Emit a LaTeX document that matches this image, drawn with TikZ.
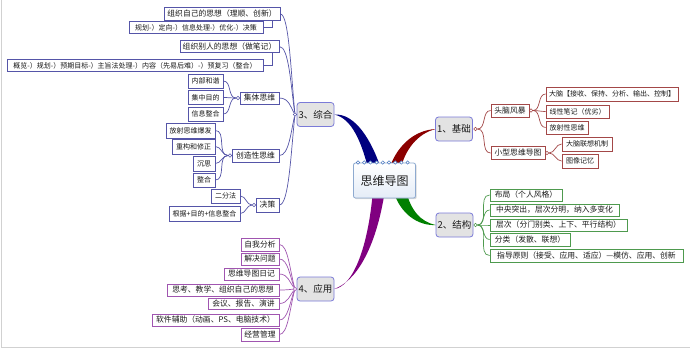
\documentclass[tikz,border=0pt]{standalone}
\usepackage{fontspec}
\setmainfont{Noto Sans CJK SC}
\usetikzlibrary{shadows}
\definecolor{colA}{HTML}{A34848}
\definecolor{colB}{HTML}{4E9A4E}
\definecolor{colC}{HTML}{5555A8}
\definecolor{colD}{HTML}{A055B0}
\definecolor{brA}{HTML}{8B0000}
\definecolor{brB}{HTML}{008000}
\definecolor{brC}{HTML}{00007F}
\definecolor{brD}{HTML}{800080}
\definecolor{mainb}{HTML}{7B7BD8}
\definecolor{maing}{HTML}{E3E3E3}
\definecolor{cenb}{HTML}{8EAAD0}
\definecolor{cenf}{HTML}{E4ECF7}
\definecolor{bindc}{HTML}{4A78C0}
\definecolor{txt}{HTML}{1A1A1A}
\begin{document}
\begin{tikzpicture}[x=1pt,y=-1pt,
  bx/.style={draw=#1, line width=0.8pt, fill=white, inner sep=0pt, minimum height=13, text=txt, font=\fontsize{7.8}{9}\selectfont},
  sm/.style={font=\fontsize{7}{8}\selectfont},
  mainn/.style={draw=mainb, fill=maing, rounded corners=3pt, line width=0.8pt, minimum width=37, minimum height=24, inner sep=0pt, text=txt, font=\fontsize{9.5}{11}\selectfont},
  circ/.style={circle, draw=#1, fill=white, line width=0.6pt, inner sep=0pt, minimum size=3.5},
  ln/.style={draw=#1, line width=0.7pt},
  bind/.style={draw=bindc, fill=white, line width=0.5pt}]
\useasboundingbox (0,0) rectangle (690,349);
\fill[white] (0,0) rectangle (690,349);
\draw[black!18, line width=1.5pt] (1.5,0) -- (1.5,347.5) -- (690,347.5);

% tapered main branches
\fill[brA] (388,172) .. controls (396,146) and (414,130) .. (436,129)
  .. controls (418,133) and (404,150) .. (400,172) -- cycle;
\fill[brC] (334,114.5) .. controls (355,113) and (372,140) .. (382,172)
  -- (369,172) .. controls (362,143) and (352,118) .. (334,114.5) -- cycle;
\fill[brB] (393,190) .. controls (400,214) and (418,226) .. (436,225)
  .. controls (420,222) and (410,209) .. (406,190) -- cycle;
\fill[brD] (373,190) .. controls (368,250) and (352,287) .. (334,289)
  .. controls (355,282) and (376,250) .. (385,190) -- cycle;

% central node
\node[draw=cenb, line width=0.8pt, rounded corners=2pt, top color=white, bottom color=cenf,
  minimum width=62, minimum height=35, inner sep=0pt, text=txt, font=\fontsize{12}{14}\selectfont,
  drop shadow={shadow xshift=1.2pt, shadow yshift=-1.2pt, opacity=0.3}] (c) at (384.5,180.5) {思维导图};
\foreach \i in {0,...,8} \draw[bind] ({358+6.2*\i},162.5) circle[radius=1.7];

% main nodes
\node[mainn] (n1) at (454,129) {1、基础};
\node[mainn] (n2) at (454.5,225) {2、结构};
\node[mainn] (n3) at (315.5,114.5) {3、综合};
\node[mainn] (n4) at (315.5,289) {4、应用};

% branch 1
\node[bx=colA, minimum width=38] (n1a) at (510,110.5) {头脑风暴};
\node[bx=colA, minimum width=54] (n1b) at (518,153) {小型思维导图};
\node[bx=colA, sm, minimum width=132, minimum height=14] (n1a1) at (612,94) {大脑【接收、保持、分析、输出、控制】};
\node[bx=colA, sm, minimum width=63] (n1a2) at (577.5,111.5) {线性笔记（优劣）};
\node[bx=colA, sm, minimum width=42] (n1a3) at (567,127.5) {放射性思维};
\node[bx=colA, sm, minimum width=50, minimum height=14] (n1b1) at (587,144) {大脑联想机制};
\node[bx=colA, sm, minimum width=36, minimum height=14] (n1b2) at (580,161) {图像记忆};
\node[circ=colA] (c1) at (475.5,129) {};
\node[circ=colA] (c1a) at (531,110.5) {};
\node[circ=colA] (c1b) at (547,153) {};
\foreach \n in {n1a,n1b} \draw[ln=colA] (c1) to[out=0,in=180] (\n.west);
\foreach \n in {n1a1,n1a2,n1a3} \draw[ln=colA] (c1a) to[out=0,in=180] (\n.west);
\foreach \n in {n1b1,n1b2} \draw[ln=colA] (c1b) to[out=0,in=180] (\n.west);

% branch 2
\node[bx=colB, minimum width=72, minimum height=12] (n2a) at (526,195) {布局（个人风格）};
\node[bx=colB, minimum width=129, minimum height=12] (n2b) at (554.5,210) {中央突出，层次分明，纳入多变化};
\node[bx=colB, minimum width=137, minimum height=12] (n2c) at (558.5,225) {层次（分门别类、上下、平行结构）};
\node[bx=colB, minimum width=80] (n2d) at (530,239.5) {分类（发散、联想）};
\node[bx=colB, minimum width=193] (n2e) at (586.5,255.5) {指导原则（接受、应用、适应）—模仿、应用、创新};
\node[circ=colB] (c2) at (475.5,225) {};
\foreach \n in {n2a,n2b,n2c,n2d,n2e} \draw[ln=colB] (c2) to[out=0,in=180] (\n.west);

% branch 3
\node[bx=colC, minimum width=116] (n3a) at (222,14) {组织自己的思想（理顺、创新）};
\node[bx=colC, sm, minimum width=134, minimum height=12] (n3a1) at (196,27.5) {规划-）定向-）信息处理-）优化-）决策};
\node[bx=colC, minimum width=99, minimum height=12] (n3b) at (229.5,46.5) {组织别人的思想（做笔记）};
\node[bx=colC, sm, minimum width=256, minimum height=12] (n3b1) at (135,65.5) {概览-）规划-）预期目标-）主旨法处理-）内容（先易后难）-）预复习（整合）};
\node[bx=colC, minimum width=39, minimum height=12] (n3c) at (259.5,98) {集体思维};
\node[bx=colC, sm, minimum width=35, minimum height=14] (n3c1) at (205.5,81) {内部和谐};
\node[bx=colC, sm, minimum width=35, minimum height=14] (n3c2) at (205.5,97.5) {集中目的};
\node[bx=colC, sm, minimum width=35, minimum height=14] (n3c3) at (205.5,114) {信息整合};
\node[bx=colC, minimum width=47] (n3d) at (255.5,155.5) {创造性思维};
\node[bx=colC, sm, minimum width=49, minimum height=15] (n3d1) at (190.5,130.5) {放射思维爆发};
\node[bx=colC, sm, minimum width=43, minimum height=15] (n3d2) at (193.5,146.5) {重构和修正};
\node[bx=colC, sm, minimum width=22, minimum height=15] (n3d3) at (204,163.5) {沉思};
\node[bx=colC, sm, minimum width=22, minimum height=14] (n3d4) at (204,180) {整合};
\node[bx=colC, minimum width=23, minimum height=14] (n3e) at (267.5,205) {决策};
\node[bx=colC, sm, minimum width=29, minimum height=14] (n3e1) at (225.5,196) {二分法};
\node[bx=colC, sm, minimum width=71, minimum height=15] (n3e2) at (204.5,213.5) {根据+目的+信息整合};
\node[circ=colC] (c3) at (295,114.5) {};
\node[circ=colC] (c3c) at (238,98) {};
\node[circ=colC] (c3d) at (230,155.5) {};
\node[circ=colC] (c3e) at (254,205) {};
\foreach \n/\y in {n3a/14,n3b/46.5,n3c/98,n3d/155.5,n3e/205}
  \draw[ln=colC] (\n.east) .. controls (289,\y) and (291,{114.5+0.4*(\y-114.5)}) .. (c3);
\foreach \n in {n3c1,n3c2,n3c3} \draw[ln=colC] (c3c) to[out=180,in=0] (\n.east);
\foreach \n in {n3d1,n3d2,n3d3,n3d4} \draw[ln=colC] (c3d) to[out=180,in=0] (\n.east);
\foreach \n in {n3e1,n3e2} \draw[ln=colC] (c3e) to[out=180,in=0] (\n.east);
\draw[ln=colC] (n3a1.east) -| ([xshift=-8pt]n3a.south east);
\draw[ln=colC] (n3b1.east) -| ([xshift=-7pt]n3b.south east);

% branch 4
\node[bx=colD, minimum width=38] (n4a) at (260,244.5) {自我分析};
\node[bx=colD, minimum width=38, minimum height=12] (n4b) at (260,259) {解决问题};
\node[bx=colD, minimum width=55, minimum height=12] (n4c) at (251.5,274) {思维导图日记};
\node[bx=colD, minimum width=112, minimum height=12] (n4d) at (223,290) {思考、教学、组织自己的思想};
\node[bx=colD, minimum width=71, minimum height=11] (n4e) at (243.5,303.5) {会议、报告、演讲};
\node[bx=colD, minimum width=127, minimum height=12] (n4f) at (215.5,320) {软件辅助（动画、PS、电脑技术）};
\node[bx=colD, minimum width=38] (n4g) at (260,334.5) {经营管理};
\node[circ=colD] (c4) at (295,289) {};
\foreach \n/\y in {n4a/244.5,n4b/259,n4c/274,n4d/290,n4e/303.5,n4f/320,n4g/334.5}
  \draw[ln=colD] (\n.east) .. controls (288,\y) and (290,{289+0.4*(\y-289)}) .. (c4);
\end{tikzpicture}
\end{document}
